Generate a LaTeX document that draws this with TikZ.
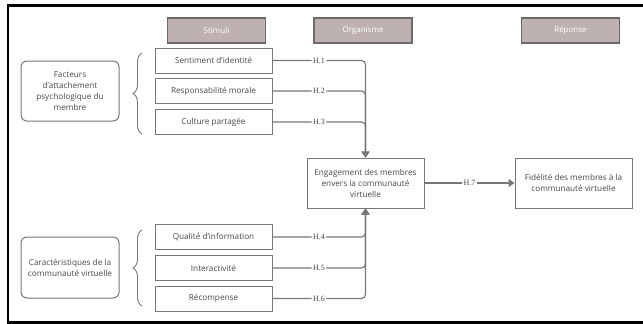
\documentclass[tikz,border=0pt]{standalone}
\usepackage{fontspec}
\setmainfont{Open Sans}
\newfontfamily\hfont{Liberation Serif}
\usetikzlibrary{arrows.meta,decorations.pathreplacing}
\definecolor{headfill}{HTML}{BDB2B0}
\definecolor{headline}{HTML}{6F6868}
\definecolor{boxline}{HTML}{777777}
\definecolor{boxtext}{HTML}{484848}

\begin{document}
\begin{tikzpicture}[x=1pt,y=-1pt,
	head/.style={draw=headline,fill=headfill,line width=1.2pt,minimum width=98pt,minimum height=25pt,inner sep=0pt,text=white,font=\fontsize{8}{10}\selectfont},
	stim/.style={draw=boxline,line width=1pt,minimum width=117pt,minimum height=25pt,inner sep=0pt,text=boxtext,font=\fontsize{8.2}{11}\selectfont},
	group/.style={draw=boxline,line width=1pt,rounded corners=6pt,minimum width=98pt,minimum height=60pt,inner sep=0pt,align=center,text=boxtext,font=\fontsize{8.2}{11}\selectfont},
	big/.style={draw=boxline,line width=1pt,minimum width=117pt,minimum height=50pt,inner sep=0pt,align=center,text=boxtext,font=\fontsize{8.2}{11}\selectfont},
	link/.style={draw=boxline,line width=1.1pt,rounded corners=4pt,-{Triangle[width=8pt,length=6pt]}},
	hlab/.style={fill=white,inner sep=1.5pt,text=boxtext,font=\hfont\fontsize{8}{9}\selectfont},
	curly/.style={draw=boxline,line width=0.9pt,decorate,decoration={brace,amplitude=9pt}}]
	\useasboundingbox (0,0) rectangle (643,324);
	% frame
	\draw[line width=2.5pt] (643,5.5) -| (8,322.5) -- (643,322.5);
	% headers
	\node[head] (stimuli) at (216.5,30.5) {Stimuli};
	\node[head] (organisme) at (363,30.5) {Organisme};
	\node[head] (reponse) at (570.5,30.5) {Réponse};
	% attachement
	\node[group] (facteurs) at (70,91) {Facteurs\\d'attachement\\psychologique du\\membre};
	\draw[curly] (142,134) -- (142,53);
	\node[stim] (identite) at (213.5,60.5) {Sentiment d'identité};
	\node[stim] (morale) at (213.5,91) {Responsabilité morale};
	\node[stim] (culture) at (213.5,122) {Culture partagée};
	% communaute
	\node[group,minimum height=61pt] (caract) at (70,267.5) {Caractéristiques de la\\communauté virtuelle};
	\draw[curly] (142,306) -- (142,230);
	\node[stim] (qualite) at (213.5,237) {Qualité d'information};
	\node[stim] (interact) at (213.5,268) {Interactivité};
	\node[stim] (recomp) at (213.5,298.5) {Récompense};
	% organisme, reponse
	\node[big] (engage) at (365.5,183) {Engagement des membres\\envers la communauté\\virtuelle};
	\node[big] (fidelite) at (573.5,183) {Fidélité des membres à la\\communauté virtuelle};
	% hypotheses
	\draw[link] (identite.east) -- node[hlab]{H.1} (identite.east -| engage.north) -- (engage.north);
	\draw[link] (morale.east) -- node[hlab]{H.2} (morale.east -| engage.north) -- (engage.north);
	\draw[link] (culture.east) -- node[hlab]{H.3} (culture.east -| engage.north) -- (engage.north);
	\draw[link] (qualite.east) -- node[hlab]{H.4} (qualite.east -| engage.south) -- (engage.south);
	\draw[link] (interact.east) -- node[hlab]{H.5} (interact.east -| engage.south) -- (engage.south);
	\draw[link] (recomp.east) -- node[hlab]{H.6} (recomp.east -| engage.south) -- (engage.south);
	\draw[link] (engage.east) -- node[hlab]{H.7} (fidelite.west);
\end{tikzpicture}
\end{document}
